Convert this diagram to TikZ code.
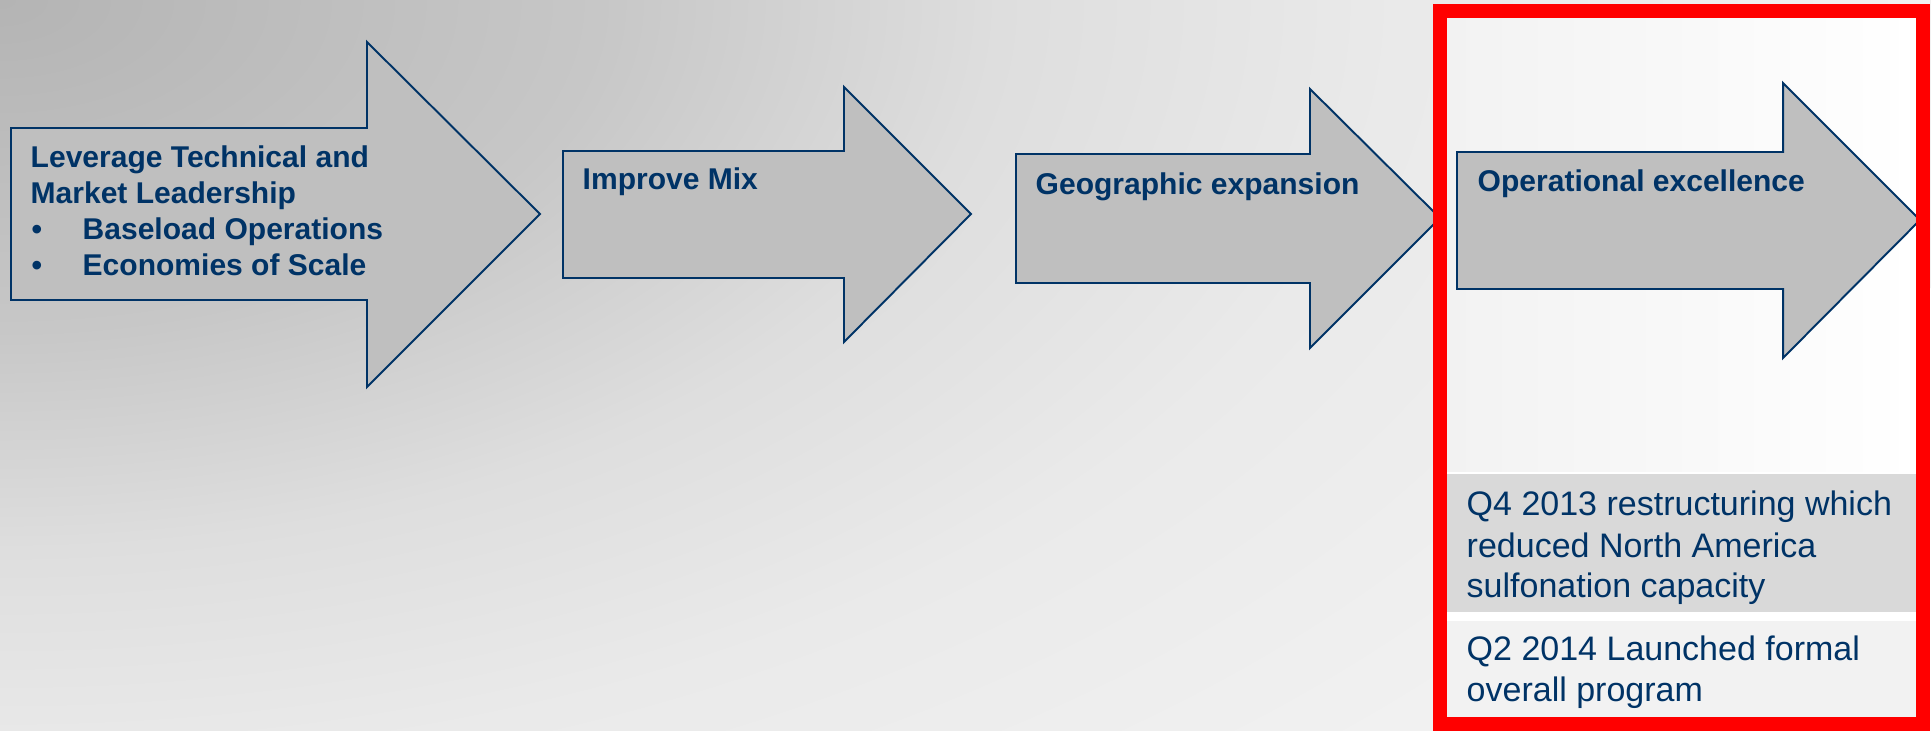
\documentclass[tikz,border=0pt]{standalone}
\usepackage{fontspec}
\setmainfont{Liberation Sans}
\usetikzlibrary{positioning}
\definecolor{navy}{RGB}{0,51,102}
\definecolor{arrowgray}{RGB}{191,191,191}
\definecolor{boxgray}{RGB}{217,217,217}
\definecolor{boxlight}{RGB}{242,242,242}
\definecolor{bgA}{RGB}{180,180,180}
\definecolor{bgB}{RGB}{199,199,199}
\definecolor{bgC}{RGB}{222,222,222}
\definecolor{bgD}{RGB}{234,234,234}
\definecolor{bgE}{RGB}{242,242,242}
\pgfdeclareradialshading{bgglow}{\pgfpoint{0bp}{0bp}}{color(0bp)=(bgA); color(7.5bp)=(bgB); color(12.5bp)=(bgC); color(17.5bp)=(bgD); color(25bp)=(bgE); color(50bp)=(bgE)}
\tikzset{
  arrowbox/.style={draw=navy, fill=arrowgray, line width=0.55pt, line join=miter},
  headtxt/.style={anchor=base west, inner sep=0, text=navy,
    font=\fontsize{8.54}{10.2}\selectfont\bfseries},
  notetxt/.style={anchor=base west, inner sep=0, text=navy,
    font=\fontsize{9.67}{11.6}\selectfont}
}
\begin{document}
\begin{tikzpicture}[x=0.01cm,y=-0.01cm]
\useasboundingbox (0,0) rectangle (1931,730);

% background
\begin{scope}
\clip (0,0) rectangle (1931,730);
\shade[shading=bgglow] (0,0) ellipse [x radius=2000, y radius=1100];
\end{scope}

% highlighted panel
\fill[white] (1440,11) rectangle (1923,724);
\shade[left color=boxlight, right color=white] (1447,18) rectangle (1916,471);
\fill[boxgray] (1447,474) rectangle (1916,612);
\fill[boxlight] (1447,621) rectangle (1916,718);

% arrows
\draw[arrowbox] (11,128) -- (367,128) -- (367,42) -- (540,214) -- (367,387) -- (367,300) -- (11,300) -- cycle;
\draw[arrowbox] (563,151) -- (844,151) -- (844,87) -- (971,214) -- (844,342) -- (844,278) -- (563,278) -- cycle;
\draw[arrowbox] (1016,154) -- (1310,154) -- (1310,89) -- (1440,218) -- (1310,348) -- (1310,283) -- (1016,283) -- cycle;
\draw[arrowbox] (1457,152) -- (1783,152) -- (1783,83) -- (1920,220) -- (1783,358) -- (1783,289) -- (1457,289) -- cycle;

\draw[red, line width=3.98pt] (1440,11) rectangle (1923,724);

\node [headtxt] (lead1) at (30,167) {Leverage Technical and};
\node [headtxt] (lead2) at (30,203) {Market Leadership};
\node [headtxt] (dot1) at (31,239) {\textbullet};
\node [headtxt] (lead3) at (82,239) {Baseload Operations};
\node [headtxt] (dot2) at (31,275) {\textbullet};
\node [headtxt] (lead4) at (82,275) {Economies of Scale};

\node [headtxt] (mix) at (582,189) {Improve Mix};
\node [headtxt] (geo) at (1035,194) {Geographic expansion};
\node [headtxt] (ops) at (1477,191) {Operational excellence};

\node [notetxt] (q4a) at (1466,515) {Q4 2013 restructuring which};
\node [notetxt] (q4b) at (1466,557) {reduced North America};
\node [notetxt] (q4c) at (1466,597) {sulfonation capacity};
\node [notetxt] (q2a) at (1466,660) {Q2 2014 Launched formal};
\node [notetxt] (q2b) at (1466,701) {overall program};

\end{tikzpicture}
\end{document}
